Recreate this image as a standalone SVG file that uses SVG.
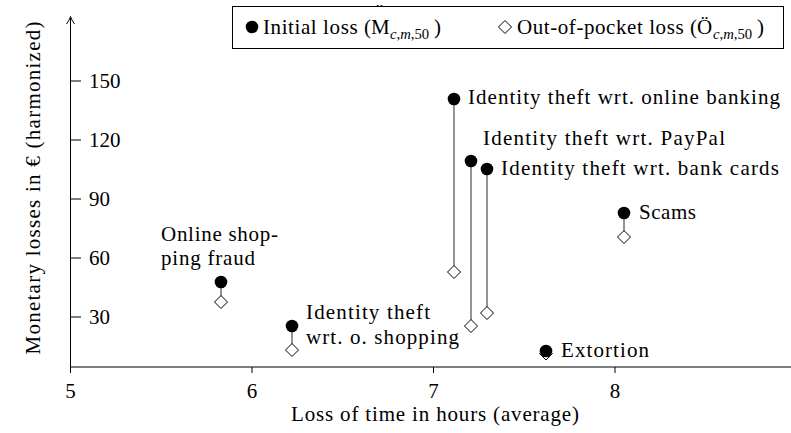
<svg xmlns="http://www.w3.org/2000/svg" width="791" height="433" viewBox="0 0 791 433">
<defs>
<circle id="d" r="6.3" fill="#000"/>
<path id="m" d="M0,-6.5 L6.5,0 L0,6.5 L-6.5,0 Z" fill="#fff" stroke="#000" stroke-width="1"/>
</defs>
<rect width="791" height="433" fill="#fff"/>

<g id="axes">
<g stroke="#000" stroke-width="1" fill="none">
<line x1="70.5" y1="373" x2="70.5" y2="18"/>
<path d="M66.5,24 Q69.5,20 70.5,16.5 Q71.5,20 74.5,24"/>
<line x1="70" y1="367" x2="791" y2="367"/>
<line x1="252" y1="367" x2="252" y2="373"/>
<line x1="433.5" y1="367" x2="433.5" y2="373"/>
<line x1="615" y1="367" x2="615" y2="373"/>
<line x1="70.5" y1="81" x2="81" y2="81"/>
<line x1="70.5" y1="140" x2="81" y2="140"/>
<line x1="70.5" y1="199" x2="81" y2="199"/>
<line x1="70.5" y1="258" x2="81" y2="258"/>
<line x1="70.5" y1="317" x2="81" y2="317"/>
</g>
<text x="70.5" y="398" text-anchor="middle" font-family="Liberation Serif" font-size="21">5</text>
<text x="252" y="398" text-anchor="middle" font-family="Liberation Serif" font-size="21">6</text>
<text x="433.5" y="398" text-anchor="middle" font-family="Liberation Serif" font-size="21">7</text>
<text x="615" y="398" text-anchor="middle" font-family="Liberation Serif" font-size="21">8</text>
<text x="89" y="88" font-family="Liberation Serif" font-size="21">150</text>
<text x="89" y="147" font-family="Liberation Serif" font-size="21">120</text>
<text x="89" y="206" font-family="Liberation Serif" font-size="21">90</text>
<text x="89" y="265" font-family="Liberation Serif" font-size="21">60</text>
<text x="89" y="324" font-family="Liberation Serif" font-size="21">30</text>
<text x="435" y="421" text-anchor="middle" textLength="288" font-family="Liberation Serif" font-size="21">Loss of time in hours (average)</text>
<text transform="translate(40,188) rotate(-90)" text-anchor="middle" textLength="333" font-family="Liberation Serif" font-size="21">Monetary losses in € (harmonized)</text>
</g>

<g id="connectors" stroke="#4d4d4d" stroke-width="1.2" fill="none">
<line x1="221" y1="282" x2="221" y2="302"/>
<line x1="292" y1="326" x2="292" y2="350"/>
<line x1="454" y1="99" x2="454" y2="272"/>
<line x1="471" y1="161" x2="471" y2="326"/>
<line x1="487" y1="169" x2="487" y2="313"/>
<line x1="624" y1="213" x2="624" y2="237"/>
</g>

<g id="online-shopping-fraud">
<use href="#m" x="221" y="302"/>
<use href="#d" x="221" y="282"/>
<text x="161" y="241" textLength="117" font-family="Liberation Serif" font-size="21">Online shop-</text>
<text x="161" y="265" textLength="94" font-family="Liberation Serif" font-size="21">ping fraud</text>
</g>
<g id="identity-theft-shopping">
<use href="#m" x="292" y="350"/>
<use href="#d" x="292" y="326"/>
<text x="306" y="319" textLength="124" font-family="Liberation Serif" font-size="21">Identity theft</text>
<text x="306" y="344" textLength="153" font-family="Liberation Serif" font-size="21">wrt. o. shopping</text>
</g>
<g id="identity-theft-online-banking">
<use href="#m" x="454" y="272"/>
<use href="#d" x="454" y="99"/>
<text x="468" y="104" textLength="312" font-family="Liberation Serif" font-size="21">Identity theft wrt. online banking</text>
</g>
<g id="identity-theft-paypal">
<use href="#m" x="471" y="326"/>
<use href="#d" x="471" y="161"/>
<text x="483" y="145" textLength="242" font-family="Liberation Serif" font-size="21">Identity theft wrt. PayPal</text>
</g>
<g id="identity-theft-bank-cards">
<use href="#m" x="487" y="313"/>
<use href="#d" x="487" y="169"/>
<text x="501" y="175" textLength="278" font-family="Liberation Serif" font-size="21">Identity theft wrt. bank cards</text>
</g>
<g id="scams">
<use href="#m" x="624" y="237"/>
<use href="#d" x="624" y="213"/>
<text x="639" y="219" textLength="57" font-family="Liberation Serif" font-size="21">Scams</text>
</g>
<g id="extortion">
<use href="#m" x="546" y="353.5"/>
<use href="#d" x="546" y="351"/>
<text x="561" y="357" textLength="88" font-family="Liberation Serif" font-size="21">Extortion</text>
</g>

<g id="legend">
<rect x="232.5" y="6.5" width="551" height="42" fill="#fff" stroke="#000" stroke-width="1"/>
<use href="#d" x="252" y="27"/>
<text x="263" y="34" textLength="108" font-family="Liberation Serif" font-size="21">Initial loss (</text>
<text x="371" y="34" font-family="Liberation Serif" font-size="21">M</text>
<text x="376" y="18" font-family="Liberation Serif" font-size="21">¨</text>
<text x="390" y="38.5" font-family="Liberation Serif" font-size="14.7"><tspan font-style="italic">c</tspan>,<tspan font-style="italic">m</tspan>,50</text>
<text x="434" y="34" font-family="Liberation Serif" font-size="21">)</text>
<use href="#m" x="505" y="27"/>
<text x="517" y="34" textLength="180" font-family="Liberation Serif" font-size="21">Out-of-pocket loss (</text>
<text x="697" y="34" font-family="Liberation Serif" font-size="21">Ö</text>
<text x="713" y="38.5" font-family="Liberation Serif" font-size="14.7"><tspan font-style="italic">c</tspan>,<tspan font-style="italic">m</tspan>,50</text>
<text x="757" y="34" font-family="Liberation Serif" font-size="21">)</text>
</g>
</svg>
